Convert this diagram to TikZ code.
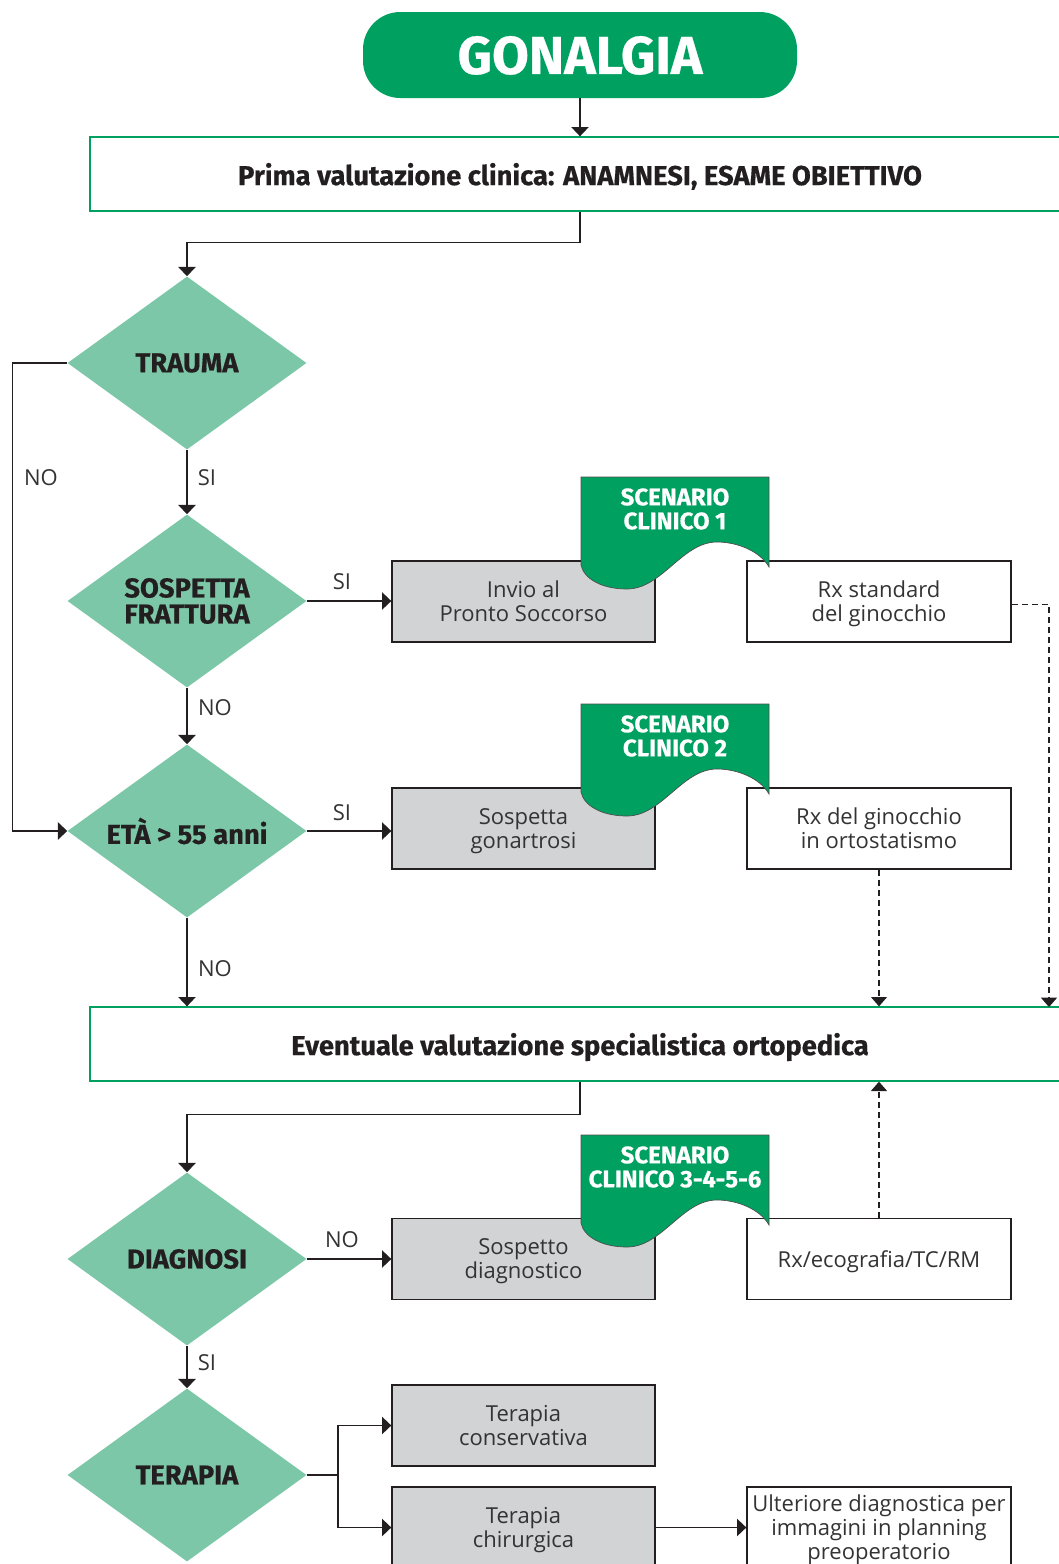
\documentclass[tikz,border=0pt]{standalone}
\usepackage{fontspec}
\setmainfont{Open Sans}
\newfontfamily\fb{Fira Sans}[BoldFeatures={FakeBold=0.5}]
\usetikzlibrary{shapes.geometric,arrows.meta}
\definecolor{ink}{HTML}{231F20}
\definecolor{txt}{HTML}{333333}
\definecolor{dkgreen}{HTML}{00A060}
\definecolor{dgreen}{HTML}{7DC7A9}
\definecolor{gbg}{HTML}{D1D3D4}
\tikzset{
  ln/.style={line width=1.1pt, draw=ink},
  arr/.style={ln, -{Triangle[length=7pt,width=13pt]}},
  darr/.style={line width=0.8pt, draw=ink, dash pattern=on 4.5pt off 3pt, -{Triangle[length=7pt,width=12pt]}},
  dia/.style={diamond, fill=dgreen, aspect=1.38, minimum width=179.25pt, minimum height=129.75pt, inner sep=0pt, align=center, text=ink, font=\fb\bfseries\fontsize{20.5}{19.5}\selectfont},
  gbox/.style={rectangle, fill=gbg, draw=ink, line width=1pt, minimum width=197.25pt, minimum height=60.75pt, inner sep=0pt, align=center, text=txt, text depth=-2.5pt, font=\fontsize{16.5}{18}\selectfont},
  wbox/.style={gbox, fill=white, minimum width=198pt},
  bigbox/.style={rectangle, fill=white, draw=dkgreen, line width=1pt, minimum width=735pt, minimum height=55.5pt, inner sep=0pt, text=ink, text depth=-0.5pt, font=\fb\bfseries\fontsize{20.5}{22}\selectfont},
  lab/.style={text=txt, inner sep=0pt, font=\fontsize{16.5}{18}\selectfont},
  tagtxt/.style={text=white, align=center, inner sep=0pt, font=\fb\bfseries\fontsize{18}{18}\selectfont},
  tagshape/.style={fill=dkgreen, draw=ink!80, line width=0.5pt},
}
\newcommand{\scentag}[3]{%
  \path[tagshape] (581,#1) -- (769,#1) -- (769,#1+90)
     .. controls (760,#1+74) and (737,#1+65) .. (717,#1+65)
     .. controls (682,#1+65) and (662,#1+112) .. (627,#1+112)
     .. controls (602,#1+112) and (584,#1+102) .. (581,#1+88) -- cycle;
  \node[tagtxt] (#3) at (675,#1+32) {#2};
}
\begin{document}
\begin{tikzpicture}[x=0.75pt,y=-0.75pt]
\useasboundingbox (0,0) rectangle (1058,1564);
% nodes
\node[rectangle, rounded corners=28pt, fill=dkgreen, minimum width=325.5pt, minimum height=64.5pt, text=white, text depth=-3pt, font=\fb\bfseries\fontsize{40}{44}\selectfont] (gon) at (580,55) {GONALGIA};
\node[bigbox] (b1) at (580,174) {Prima valutazione clinica: ANAMNESI, ESAME OBIETTIVO};
\node[dia] (d1) at (187,363) {TRAUMA};
\node[dia] (d2) at (187,601) {SOSPETTA\\FRATTURA};
\node[dia] (d3) at (187,831) {ETÀ > 55 anni};
\node[bigbox] (b2) at (580,1044) {Eventuale valutazione specialistica ortopedica};
\node[dia] (d4) at (187,1259) {DIAGNOSI};
\node[dia] (d5) at (187,1475) {TERAPIA};
\node[gbox] (g1) at (523.5,601.5) {Invio al\\Pronto Soccorso};
\node[wbox] (w1) at (879,601.5) {Rx standard\\del ginocchio};
\node[gbox] (g2) at (523.5,828.5) {Sospetta\\gonartrosi};
\node[wbox] (w2) at (879,828.5) {Rx del ginocchio\\in ortostatismo};
\node[gbox] (g3) at (523.5,1259) {Sospetto\\diagnostico};
\node[wbox] (w3) at (879,1259) {Rx/ecografia/TC/RM};
\node[gbox] (g4) at (523.5,1425.5) {Terapia\\conservativa};
\node[gbox] (g5) at (523.5,1527.5) {Terapia\\chirurgica};
\node[wbox] (w5) at (879,1527.5) {Ulteriore diagnostica per\\immagini in planning\\preoperatorio};
% tags
\scentag{477}{SCENARIO\\CLINICO 1}{t1}
\scentag{704}{SCENARIO\\CLINICO 2}{t2}
\scentag{1135}{SCENARIO\\CLINICO 3-4-5-6}{t3}
% connectors
\draw[arr] (gon.south) -- (b1.north);
\draw[arr] (b1.south) -- ++(0,31) -| (d1.north);
\draw[arr] (d1.west) -- ++(-55,0) |- (d3.west);
\node[lab] (lno1) at (41,478) {NO};
\draw[arr] (d1.south) -- (d2.north);
\node[lab] (lsi1) at (207,478) {SI};
\draw[arr] (d2.east) -- (d2.east -| g1.west);
\node[lab] (lsi2) at (342,582) {SI};
\draw[arr] (d2.south) -- (d3.north);
\node[lab] (lno2) at (215,708) {NO};
\draw[arr] (d3.east) -- (d3.east -| g2.west);
\node[lab] (lsi3) at (342,813) {SI};
\draw[arr] (d3.south) -- (d3.south |- b2.north);
\node[lab] (lno3) at (215,969) {NO};
\coordinate (c1) at (1049,1007);
\draw[darr] ([yshift=-2.25pt]w1.east) -| (c1);
\draw[darr] (w2.south) -- (w2.south |- b2.north);
\draw[darr] (w3.north) -- (w3.north |- b2.south);
\draw[arr] (b2.south) -- ++(0,33) -| (d4.north);
\draw[arr] (d4.east) -- (d4.east -| g3.west);
\node[lab] (lno4) at (342,1240) {NO};
\draw[arr] (d4.south) -- (d5.north);
\node[lab] (lsi4) at (207,1363) {SI};
\coordinate (c2) at (338,1475);
\draw[ln] (d5.east) -- (c2);
\draw[arr] (c2) |- (g4.west);
\draw[arr] (c2) |- (g5.west);
\draw[arr] (g5.east) -- (w5.west);
\end{tikzpicture}
\end{document}
